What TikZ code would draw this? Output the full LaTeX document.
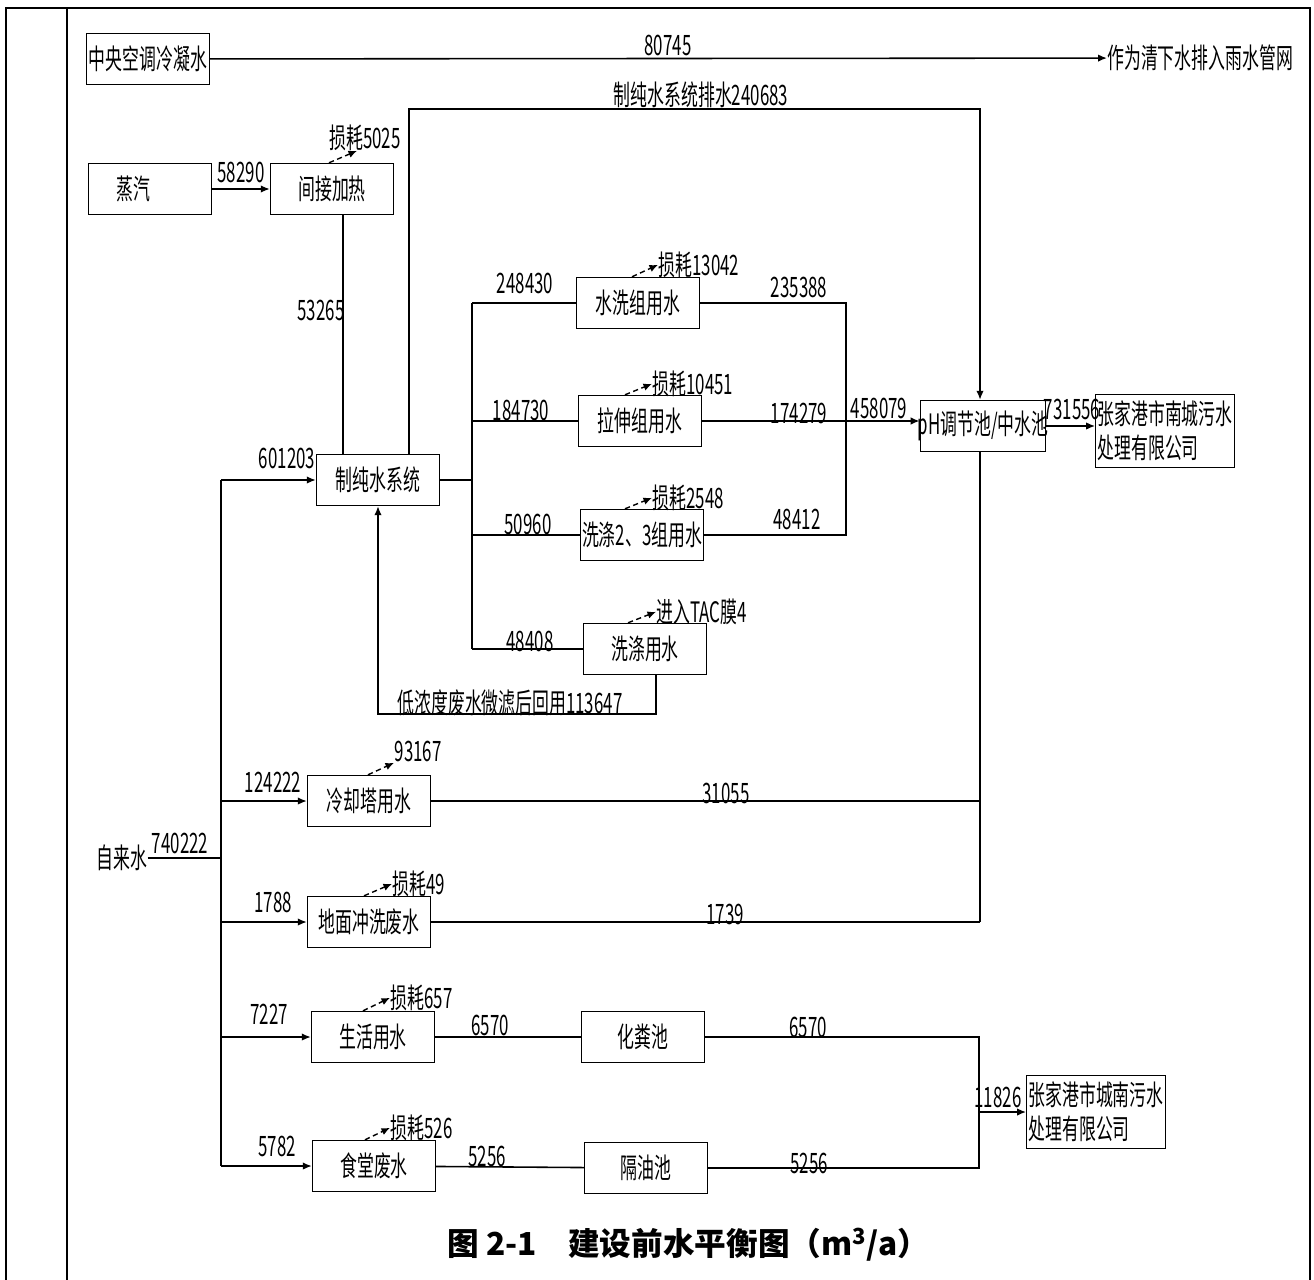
\documentclass[tikz,border=0pt]{standalone}
\usepackage{fontspec}
\setmainfont{Noto Sans CJK SC}[FakeStretch=0.6]
\newfontfamily\titlefont{Noto Sans CJK SC}
\usetikzlibrary{positioning, arrows.meta}

\begin{document}
\begin{tikzpicture}[
    x=0.02cm, y=-0.02cm,
    font=\fontsize{16}{19.5}\selectfont,
    box/.style={
        rectangle,
        draw=black,
        line width=0.8pt,
        align=center,
        minimum width=2.46cm,
        minimum height=1.02cm,
        inner sep=1pt
    },
    plant/.style={
        box,
        align=left,
        minimum width=2.68cm,
        minimum height=1.46cm
    },
    lbl/.style={inner sep=0pt},
    pipe/.style={line width=0.9pt},
    arrow/.style={
        -{Latex[length=1.8mm, width=1.5mm]},
        line width=0.9pt
    },
    loss/.style={
        -{Latex[length=1.7mm, width=1.5mm]},
        densely dashed,
        line width=0.8pt
    }
]
\useasboundingbox (0,0) rectangle (1314,1280);

% frame of the table cell
\draw[line width=0.7pt] (6,1280) -- (6,8) -- (1310,8) -- (1310,1280);
\draw[line width=0.7pt] (67,8) -- (67,1280);

% boxes
\node[box] (ac) at (148,59) {中央空调冷凝水};
\node[lbl, anchor=west] (rain) at (1107,58) {作为清下水排入雨水管网};
\node[box] (steam) at (150,189) {蒸汽\hspace{1.2em}};
\node[box] (heat) at (332,189) {间接加热};
\node[box] (pure) at (378,480) {制纯水系统};

\node[box] (wash1) at (638,303) {水洗组用水};
\node[box] (stretch) at (640,421) {拉伸组用水};
\node[box] (wash23) at (642,535) {洗涤2、3组用水};
\node[box] (rinse) at (645,649) {洗涤用水};

\node[box, inner xsep=-1.5pt] (ph) at (983,426) {pH调节池/中水池};
\node[plant] (south) at (1165,431) {张家港市南城污水\\处理有限公司};

\node[lbl] (tap) at (122,858) {自来水};
\node[box] (cool) at (369,801) {冷却塔用水};
\node[box] (floor) at (369,922) {地面冲洗废水};
\node[box] (life) at (373,1037) {生活用水};
\node[box] (septic) at (643,1037) {化粪池};
\node[box] (canteen) at (374,1166) {食堂废水};
\node[box] (grease) at (646,1168) {隔油池};
\node[plant] (north) at (1096,1112) {张家港市城南污水\\处理有限公司};

% helper points
\coordinate (tTop) at (221,480);
\coordinate (tBot) at (221,1166);
\coordinate (hx) at (343,0);
\coordinate (rejTop) at (409,109);
\coordinate (rejRight) at (980,109);
\coordinate (bx) at (472,0);
\coordinate (mx) at (846,0);
\coordinate (rcy) at (656,714);
\coordinate (dx) at (979,0);

% connectors
\draw[arrow] (ac) -- (rain);
\draw[arrow] (steam) -- (heat);
\draw[pipe] (heat.south -| hx) -- (pure.north -| hx);
\draw[arrow] (pure.north -| rejTop) -- (rejTop) -- (rejRight) -- (ph.north -| rejRight);

\draw[pipe] (pure) -- (pure -| bx);
\draw[pipe] (wash1 -| bx) -- (rinse -| bx);
\draw[pipe] (wash1 -| bx) -- (wash1);
\draw[pipe] (stretch -| bx) -- (stretch);
\draw[pipe] (wash23 -| bx) -- (wash23);
\draw[pipe] (rinse -| bx) -- (rinse);

\draw[pipe] (wash1) -- (wash1 -| mx) -- (wash23 -| mx) -- (wash23);
\draw[arrow] (stretch) -- (stretch -| ph.west);
\draw[arrow] (ph.east) -- (ph.east -| south.west);
\draw[arrow] (rinse.south -| rcy) -- (rcy) -| (pure.south);

\draw[pipe] (tap) -- (tap -| tTop);
\draw[pipe] (tTop) -- (tBot);
\draw[arrow] (tTop) -- (pure);
\draw[arrow] (cool -| tTop) -- (cool);
\draw[arrow] (floor -| tTop) -- (floor);
\draw[arrow] (life -| tTop) -- (life);
\draw[arrow] (tBot) -- (canteen);

\draw[pipe] (ph.south -| rejRight) -- (floor -| rejRight);
\draw[pipe] (cool) -- (cool -| rejRight);
\draw[pipe] (floor) -- (floor -| rejRight);

\draw[pipe] (life) -- (septic);
\draw[pipe] (canteen) -- (grease);
\draw[pipe] (septic) -- (septic -| dx) -- (grease -| dx) -- (grease);
\draw[arrow] (north.west -| dx) -- (north.west);

% losses
\draw[loss] (heat.north) ++(-3,0) -- ++(28,-12);
\node[lbl] (l5025) at (365,138) {损耗5025};
\draw[loss] (wash1.north) ++(-6,0) -- ++(26,-12) node[lbl, anchor=west] (l13042) {损耗13042};
\draw[loss] (stretch.north) ++(-15,0) -- ++(27,-11) node[lbl, anchor=west] (l10451) {损耗10451};
\draw[loss] (wash23.north) ++(-17,0) -- ++(27,-11) node[lbl, anchor=west] (l2548) {损耗2548};
\draw[loss] (rinse.north) ++(-17,0) -- ++(28,-11) node[lbl, anchor=west] (ltac) {进入TAC膜4};
\draw[loss] (cool.north) ++(-1,0) -- ++(26,-12) node[lbl, anchor=south west] (l93167) {93167};
\draw[loss] (floor.north) ++(-5,0) -- ++(28,-12) node[lbl, anchor=west] (l49) {损耗49};
\draw[loss] (life.north) ++(-10,0) -- ++(27,-13) node[lbl, anchor=west] (l657) {损耗657};
\draw[loss] (canteen.north) ++(-9,0) -- ++(25,-12) node[lbl, anchor=west] (l526) {损耗526};

% flow values
\node[lbl] (n80745) at (668,45) {80745};
\node[lbl] (nrej) at (701,95) {制纯水系统排水240683};
\node[lbl] (n58290) at (241,172) {58290};
\node[lbl] (n53265) at (321,310) {53265};
\node[lbl] (n601203) at (287,458) {601203};
\node[lbl] (n248430) at (525,283) {248430};
\node[lbl] (n184730) at (521,410) {184730};
\node[lbl] (n50960) at (528,524) {50960};
\node[lbl] (n48408) at (530,641) {48408};
\node[lbl] (n235388) at (799,287) {235388};
\node[lbl] (n174279) at (799,413) {174279};
\node[lbl] (n48412) at (797,519) {48412};
\node[lbl] (n458079) at (879,408) {458079};
\node[lbl] (n731556) at (1072,409) {731556};
\node[lbl] (nrcy) at (510,703) {低浓度废水微滤后回用113647};
\node[lbl] (n740222) at (180,843) {740222};
\node[lbl] (n124222) at (273,782) {124222};
\node[lbl] (n1788) at (273,902) {1788};
\node[lbl] (n7227) at (269,1014) {7227};
\node[lbl] (n5782) at (277,1146) {5782};
\node[lbl] (n31055) at (726,793) {31055};
\node[lbl] (n1739) at (725,914) {1739};
\node[lbl] (n6570a) at (490,1025) {6570};
\node[lbl] (n6570b) at (808,1027) {6570};
\node[lbl] (n5256a) at (487,1156) {5256};
\node[lbl] (n5256b) at (809,1163) {5256};
\node[lbl] (n11826) at (998,1097) {11826};

% caption
\node[lbl, font=\titlefont\bfseries\fontsize{18}{22}\selectfont] (cap) at (688,1245)
    {图 2-1\quad 建设前水平衡图（m\textsuperscript{3}/a）};

\end{tikzpicture}
\end{document}
